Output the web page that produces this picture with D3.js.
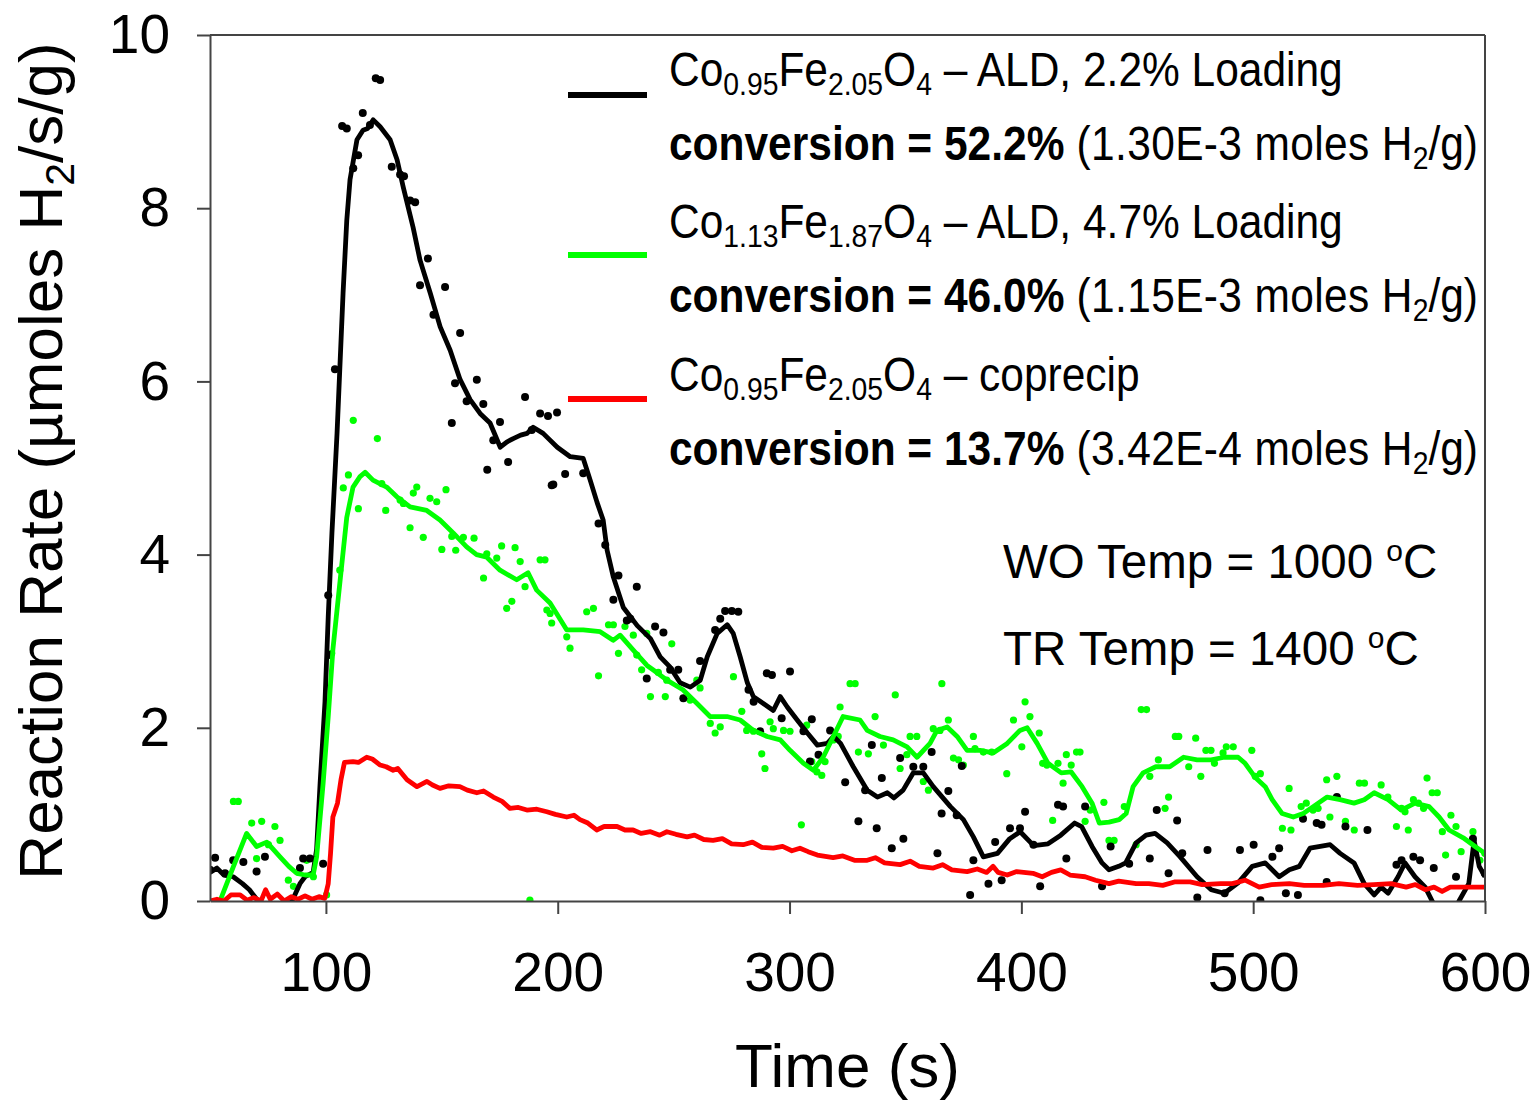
<!DOCTYPE html>
<html>
<head>
<meta charset="utf-8">
<script src="https://cdn.jsdelivr.net/npm/d3@7"></script>
<style>
  html, body { margin: 0; padding: 0; background: #fff; }
  svg { display: block; }
  text { font-family: "Liberation Sans", Arial, Helvetica, sans-serif; fill: #000; }
</style>
</head>
<body>
<svg id="chart" width="1534" height="1100"></svg>
<script>
// ---------------- DATA ----------------
const xTicks = [100, 200, 300, 400, 500, 600];
const yTicks = [0, 2, 4, 6, 8, 10];

// Co0.95Fe2.05O4 – ALD, 2.2% (black) : smoothed line [time, rate]
const blackLine = [[50,0.33],[53,0.38],[56,0.3],[60,0.28],[64,0.2],[67,0.13],[70.7,0],[75,-0.15],[80,-0.15],[85.4,0],[88.8,0.2],[91,0.28],[94.5,0.33],[96,0.6],[97.5,1.36],[99.6,2.3],[101,3.28],[102.6,4.25],[104.8,5.4],[107.4,7.02],[109,7.86],[110.4,8.33],[113.4,8.79],[116,8.9],[118,8.92],[120.4,9.02],[123.4,8.94],[127.7,8.79],[130.7,8.56],[133.4,8.24],[137.6,7.78],[140.6,7.4],[145,7.02],[149.3,6.63],[153.6,6.36],[157.9,6.02],[162.2,5.79],[166.5,5.63],[170.8,5.52],[175.2,5.24],[178,5.3],[180.8,5.34],[184,5.38],[186.8,5.4],[189.4,5.47],[193.7,5.4],[199.8,5.24],[205.4,5.13],[211,5.11],[214,4.86],[217,4.6],[219.6,4.4],[221.3,4.05],[224,3.74],[228.3,3.39],[234.3,3.18],[240,3.03],[244.2,2.82],[248.5,2.7],[252.8,2.52],[257.2,2.47],[261.5,2.55],[264.5,2.82],[268.8,3.09],[273.1,3.19],[275.7,3.09],[278.7,2.82],[281.8,2.52],[284.4,2.36],[288.7,2.28],[293,2.2],[296,2.36],[299,2.24],[303.3,2.09],[307.7,1.94],[312,1.8],[316.3,1.82],[319,1.9],[322,1.82],[327.5,1.55],[333.5,1.28],[337.9,1.2],[342.2,1.25],[345,1.19],[349,1.28],[353.4,1.48],[357.7,1.48],[362,1.32],[369.4,1.09],[375,0.94],[379.3,0.74],[383.6,0.51],[389.7,0.55],[395,0.72],[399.5,0.8],[405.3,0.64],[411.5,0.66],[417,0.76],[423,0.9],[426,0.86],[430.5,0.63],[434.8,0.44],[437.8,0.36],[442,0.4],[445,0.44],[449.5,0.67],[453.8,0.76],[457.7,0.78],[462.9,0.67],[468.5,0.51],[475.8,0.28],[481.9,0.13],[487.5,0.09],[493.5,0.21],[499.6,0.4],[505.2,0.44],[511.2,0.28],[515.6,0.36],[519.9,0.4],[524.5,0.61],[528.9,0.63],[533.2,0.65],[537.5,0.55],[543.5,0.44],[547.9,0.2],[552.2,0.07],[555.2,0.16],[558.2,0.09],[562.5,0.28],[565.5,0.44],[569.8,0.28],[574.2,0.16],[577.2,0],[580,-0.15],[586,-0.15],[588.8,0],[593,0.2],[595.3,0.7],[597.5,0.4],[600,0.28]];

// black raw points
const blackDots = [[50,0.36],[52.2,0.5],[56.5,0.32],[60,0.47],[64.4,0.45],[70.1,0.34],[73.7,0.51],[88.8,0.38],[90.2,0.49],[93.1,0.49],[98.8,0.43],[101,3.53],[101.8,2.84],[103.9,6.14],[109,8.92],[107,8.95],[111.8,8.46],[113.9,8.61],[115.9,9.1],[119,8.96],[121.5,9.5],[123.4,9.48],[128.4,8.48],[132,8.39],[133.7,8.37],[136.3,8.09],[138.5,8.07],[140.6,7.11],[144,7.42],[146.4,6.77],[151.4,7.09],[154.3,5.52],[155.7,5.98],[157.9,6.56],[160.7,5.77],[165.1,6.02],[167.9,5.74],[169.6,4.98],[172.2,5.32],[175.1,5.53],[178.6,5.07],[185.9,5.82],[188.8,5.44],[192.4,5.63],[195.8,5.6],[197.4,4.8],[198.1,4.81],[199.7,5.64],[203.2,4.93],[211,4.94],[217.6,4.36],[220.5,4.11],[224,3.48],[226.2,3.76],[229.8,3.24],[231.3,3.26],[234.1,3.63],[238.4,2.57],[242,3.17],[245.6,3.1],[248.5,2.67],[252,2.67],[254.2,2.34],[261.4,2.77],[267.9,3.13],[270.1,3.26],[272.2,3.35],[275.1,3.35],[277.9,3.34],[282.3,2.44],[284.5,2.3],[287.3,1.96],[290.2,2.63],[292.4,2.61],[296.6,2.11],[300.2,2.65],[306,1.96],[308.8,1.61],[309.6,2.1],[312.5,1.69],[317.5,1.97],[324,1.37],[329.7,0.92],[332.6,1.28],[335.5,1.8],[337.6,0.84],[339.8,1.42],[344.1,0.61],[347.7,1.65],[349.1,0.72],[353.4,1.55],[357.7,1.55],[361.3,1.72],[363.8,0.55],[365.6,1.01],[368.5,1.27],[372.1,0.99],[374.3,1.56],[377.9,0.07],[379.3,0.47],[385.8,0.2],[388.7,0.68],[391.5,0.24],[395.1,0.84],[399.4,0.84],[401.6,1.03],[405.2,0.65],[408.1,0.17],[415.8,1.11],[418,1.09],[419.4,0.49],[427.5,1.09],[434.8,0.17],[438.5,0.63],[446.5,0.43],[455.4,0.49],[458.4,1.05],[463.5,0.32],[467.2,0.93],[469.4,0.55],[475.9,0.04],[480.3,0.59],[487.7,0.09],[494.3,0.59],[500.2,0.65],[503.1,0.01],[508.3,0.51],[511.2,0.61],[514.1,0.09],[519.3,0.07],[521.5,0.95],[527.4,0.9],[529.5,0.88],[531.7,0.22],[536.1,1.2],[539.8,0.86],[549.3,0.82],[561.8,0.42],[564,0.47],[569.1,0.51],[572,0.47],[577.9,0.38],[587.5,0.28],[594.8,0.72],[599.9,0.32]];

// Co1.13Fe1.87O4 – ALD, 4.7% (green)
const greenLine = [[54.3,0],[60,0.39],[65.8,0.78],[70.1,0.63],[74.5,0.68],[80.2,0.51],[84,0.4],[87.4,0.32],[91,0.3],[94.5,0.3],[96,0.51],[98.8,1.36],[101,2.13],[103,2.9],[106,3.67],[109,4.43],[111.7,4.78],[114.7,4.9],[116.9,4.95],[120.3,4.86],[126.2,4.78],[130.5,4.67],[136.3,4.55],[143.5,4.51],[149.2,4.4],[154.9,4.25],[160.7,4.09],[165,4.0],[169.4,3.97],[175.1,3.82],[182.3,3.71],[187.2,3.79],[190.9,3.59],[196.7,3.44],[203.9,3.13],[211,3.13],[218.3,3.11],[223.9,3.01],[226.9,3.07],[232.5,2.9],[238.5,2.72],[241.1,2.67],[247.1,2.55],[254,2.44],[260.1,2.28],[265.7,2.13],[273,2.13],[278.7,2.09],[284.4,1.97],[290.3,1.9],[296,1.86],[300.2,1.74],[306,1.59],[310.3,1.51],[314.5,1.66],[318.9,1.9],[323.1,2.13],[330.4,2.09],[333.5,1.97],[339,1.9],[344.7,1.86],[350.7,1.78],[355,1.66],[360.6,1.82],[363.6,1.97],[368,2.01],[372.3,1.9],[376.6,1.74],[382.2,1.74],[387.8,1.71],[393.9,1.82],[399.4,1.97],[402.5,2.0],[406.8,1.82],[411.5,1.59],[417.2,1.48],[421.5,1.49],[426.2,1.32],[430.5,1.13],[433.6,0.9],[437.8,0.91],[442.2,0.94],[445.2,1.01],[448.2,1.32],[452.5,1.48],[458,1.55],[464,1.55],[470,1.66],[475.8,1.63],[481.9,1.63],[487.5,1.66],[493.5,1.66],[496.5,1.59],[500.8,1.43],[505.2,1.32],[508.2,1.17],[512.5,1.01],[517.3,0.97],[521.6,1.01],[525.9,1.09],[531.9,1.2],[537.5,1.17],[543.5,1.13],[547.9,1.17],[552.2,1.25],[558.2,1.17],[563.9,1.05],[569.8,1.13],[575.9,1.09],[580.2,0.97],[584.5,0.82],[590.6,0.73],[596.2,0.62],[600,0.55]];

const greenDots = [[60.1,1.15],[62.2,1.15],[68,0.9],[72.3,0.92],[78,0.86],[80.2,0.7],[75.2,0.65],[70.1,0.49],[83.8,0.24],[86,0.17],[91.7,0.47],[94.6,0.28],[100.3,0.07],[102.5,2.86],[106,3.82],[107.5,4.77],[109.7,4.92],[111.8,5.55],[114,4.53],[122.2,5.34],[124.1,4.82],[125.8,4.51],[132,4.63],[133.4,4.59],[136.3,4.31],[137.7,4.71],[139.2,4.78],[142,4.2],[144.9,4.65],[147.8,4.61],[150,4.06],[151.8,4.75],[154.3,4.21],[156,4.05],[159.3,4.2],[163.9,4.19],[168,3.73],[169.4,4.01],[173.7,3.96],[175.8,4.1],[178,3.38],[180.2,3.46],[181.6,4.08],[183.8,3.92],[185.9,3.63],[188,0.01],[192.4,3.94],[194.5,3.94],[195.3,3.36],[196.7,3.32],[197.4,3.21],[203.9,3.05],[205.3,2.92],[212.5,3.34],[215.4,3.38],[217.6,2.6],[221.9,3.19],[224,3.19],[226.2,2.86],[229,3.17],[232.6,3.07],[234.1,2.84],[236.2,2.67],[238.4,3.09],[240,2.36],[243.4,2.64],[246.4,2.36],[247,2.55],[249.2,2.97],[254.2,2.34],[257.1,2.32],[260,2.55],[261.4,2.46],[265.8,2.05],[267.9,1.94],[270.1,2.01],[275.8,2.59],[279.4,2.19],[281.5,1.97],[284.4,1.96],[288,1.7],[289.4,1.53],[291.6,2.07],[293,1.99],[297.4,1.97],[300.2,1.96],[305.1,0.88],[307.4,2.03],[309.6,1.61],[311.8,1.49],[313.9,1.45],[315.3,1.61],[318.9,1.86],[321,1.9],[321.8,2.24],[326.1,2.51],[328.3,2.51],[329.7,1.72],[334,1.7],[336.9,2.13],[340.5,1.8],[345.6,2.38],[347.7,1.53],[350.6,1.69],[352,1.9],[354.9,1.9],[357.7,1.38],[359.9,1.28],[362,1.99],[364.9,1.97],[365.7,2.51],[368.5,2.09],[370.7,1.65],[372.9,1.63],[375,1.57],[379.3,1.9],[380,1.76],[383.6,1.72],[387.2,1.72],[393.7,1.47],[396.6,2.09],[400.2,1.78],[401.6,2.3],[403.7,2.13],[407.7,1.94],[409.2,1.59],[411,1.57],[413.5,0.93],[415.8,1.59],[418,1.36],[419.4,1.69],[421.5,1.57],[423.8,1.72],[425.3,1.72],[427.5,0.92],[429.7,1.05],[435.6,1.14],[437.8,0.7],[440,0.7],[444.4,1.09],[449.5,0.65],[451.7,2.21],[454,2.21],[455.4,1.44],[459.1,1.63],[462,1.07],[463.5,1.2],[466.4,1.9],[467.9,1.9],[472.2,1.55],[475.2,1.88],[477.4,1.44],[479.6,1.74],[481.8,1.74],[483.3,1.59],[487,1.71],[488.4,1.78],[491.4,1.78],[499.4,1.74],[500.9,1.44],[503.1,1.47],[512.6,0.84],[515.5,1.3],[516.3,0.82],[520.7,1.09],[522.9,1.13],[525.8,1.05],[528,1.07],[531.7,1.4],[533.1,0.97],[536.1,1.44],[539.8,0.92],[543.6,0.82],[545.8,1.36],[548,1.36],[555.2,1.34],[558.1,1.2],[561.8,0.86],[564,1.07],[565.5,1.03],[566.9,0.82],[569.1,1.17],[571.3,1.13],[573.5,1.07],[575,1.42],[577.2,1.25],[579.4,1.25],[581.6,0.8],[583,0.53],[585.3,0.99],[587.5,0.86],[589.7,0.57],[594.8,0.8],[597.8,0.47],[599.9,0.55]];

// Co0.95Fe2.05O4 – coprecip (red)
const redLine = [[50,0],[53,0.02],[56,0],[59,0.07],[63,0.07],[66,0.01],[69,0.04],[72,0],[74,0.13],[76,0.02],[79,0.08],[82,0],[85,0.05],[88,0.02],[91,0.06],[94,0.02],[97,0.05],[99.5,0.03],[101,0.2],[102,0.55],[103,0.97],[105,1.13],[106.5,1.4],[108,1.6],[111.7,1.61],[114,1.6],[117.6,1.66],[120,1.64],[123.4,1.57],[126,1.55],[129,1.51],[131,1.53],[135,1.4],[139.3,1.32],[143.6,1.38],[146,1.34],[149.2,1.3],[153,1.33],[157.8,1.32],[161,1.28],[165.1,1.25],[168,1.27],[172.2,1.2],[176,1.15],[179.4,1.07],[183,1.08],[186.7,1.05],[191,1.06],[195.3,1.03],[199,1.0],[203.9,0.97],[207,0.99],[209.6,0.94],[213,0.9],[216.8,0.82],[220,0.86],[225.6,0.86],[229,0.82],[232.5,0.82],[236,0.78],[240,0.8],[244,0.76],[247.1,0.8],[251,0.77],[255.8,0.74],[259,0.76],[263,0.71],[267,0.7],[271,0.72],[275,0.66],[280,0.65],[284,0.68],[288,0.62],[293,0.61],[297,0.63],[301,0.58],[304.5,0.61],[308,0.57],[312,0.53],[318.8,0.5],[323,0.52],[328,0.47],[333.5,0.47],[337,0.5],[341,0.44],[347.7,0.42],[352,0.46],[356,0.4],[362,0.38],[366,0.42],[370,0.36],[376.6,0.34],[381,0.37],[385,0.33],[387.8,0.4],[390,0.33],[393.9,0.3],[398,0.34],[405,0.32],[409,0.28],[413,0.33],[417,0.36],[421,0.3],[427.5,0.28],[432,0.24],[437.8,0.2],[442,0.23],[449.5,0.2],[455,0.2],[461,0.18],[466,0.22],[472.8,0.22],[478,0.19],[486,0.2],[491,0.2],[496.5,0.24],[502.6,0.16],[508,0.19],[515.6,0.2],[522,0.18],[530.2,0.18],[537,0.2],[545,0.18],[552,0.19],[559.5,0.2],[566,0.16],[570,0.19],[574.2,0.13],[578,0.16],[581.5,0.11],[585,0.16],[588.8,0.16],[594,0.16],[600,0.16]];

const seriesColors = ["#000000", "#00ff00", "#ff0000"];
const legendFormulas = [
  [["Co",0],["0.95",1],["Fe",0],["2.05",1],["O",0],["4",1],[" – ALD, 2.2% Loading",0]],
  [["Co",0],["1.13",1],["Fe",0],["1.87",1],["O",0],["4",1],[" – ALD, 4.7% Loading",0]],
  [["Co",0],["0.95",1],["Fe",0],["2.05",1],["O",0],["4",1],[" – coprecip",0]]
];
const legendConversion = ["52.2%", "46.0%", "13.7%"];
const legendMoles = ["1.30E-3", "1.15E-3", "3.42E-4"];
const tempLabels = [["WO Temp = 1000 ", "o", "C"], ["TR Temp = 1400 ", "o", "C"]];

// ---------------- CHART ----------------
const svg = d3.select("#chart");
const L = 210, R = 1485, T = 35, B = 901;
const x = d3.scaleLinear().domain([50, 600]).range([L, R]);
const y = d3.scaleLinear().domain([0, 10]).range([B, T]);
const axisColor = "#444";

svg.append("defs").append("clipPath").attr("id", "plotclip")
  .append("rect").attr("x", L).attr("y", T).attr("width", R - L).attr("height", B - T);

const plot = svg.append("g").attr("clip-path", "url(#plotclip)");

// dots
plot.append("g").selectAll("circle").data(greenDots).join("circle")
  .attr("cx", d => x(d[0])).attr("cy", d => y(d[1])).attr("r", 3.6).attr("fill", seriesColors[1]);
plot.append("g").selectAll("circle").data(blackDots).join("circle")
  .attr("cx", d => x(d[0])).attr("cy", d => y(d[1])).attr("r", 4).attr("fill", seriesColors[0]);

const line = d3.line().x(d => x(d[0])).y(d => y(d[1]));
[[blackLine, 0], [greenLine, 1], [redLine, 2]].forEach(([data, i]) => {
  plot.append("path").datum(data).attr("d", line)
    .attr("fill", "none").attr("stroke", seriesColors[i])
    .attr("stroke-width", 4.8).attr("stroke-linejoin", "round");
});

// frame (top, right)
svg.append("line").attr("x1", L).attr("x2", R).attr("y1", T).attr("y2", T)
  .attr("stroke", axisColor).attr("stroke-width", 2);
svg.append("line").attr("x1", R).attr("x2", R).attr("y1", T).attr("y2", B)
  .attr("stroke", axisColor).attr("stroke-width", 2);

// axes
const xAxis = svg.append("g").attr("transform", `translate(0,${B})`)
  .call(d3.axisBottom(x).tickValues(xTicks).tickSize(13).tickSizeOuter(0).tickPadding(38).tickFormat(d3.format("d")));
const yAxis = svg.append("g").attr("transform", `translate(${L},0)`)
  .call(d3.axisLeft(y).tickValues(yTicks).tickSize(13).tickSizeOuter(0).tickPadding(27).tickFormat(d3.format("d")));
[xAxis, yAxis].forEach(a => {
  a.select(".domain").attr("stroke", axisColor).attr("stroke-width", 2);
  a.selectAll(".tick line").attr("stroke", axisColor).attr("stroke-width", 2);
  a.selectAll(".tick text").attr("fill", "#000")
    .style("font-family", '"Liberation Sans", Arial, sans-serif').style("font-size", "55px");
});

// axis titles
svg.append("text").attr("x", (L + R) / 2).attr("y", 1087).attr("text-anchor", "middle")
  .style("font-size", "62px").text("Time (s)");
const yt = svg.append("text").attr("transform", `translate(62,${(40 + 882) / 2}) rotate(-90)`)
  .attr("text-anchor", "middle").style("font-size", "62px");
yt.append("tspan").text("Reaction Rate (µmoles H");
yt.append("tspan").attr("dy", 12).style("font-size", "41px").text("2");
yt.append("tspan").attr("dy", -12).text("/s/g)");

// legend
const legendLineY = [95, 255, 399];
const legendBase = [86, 238, 391];
const LEG_FS = 48, SUB_FS = 32, SUB_DY = 9;
const legend = svg.append("g");
legendFormulas.forEach((parts, i) => {
  legend.append("line").attr("x1", 568).attr("x2", 647)
    .attr("y1", legendLineY[i]).attr("y2", legendLineY[i])
    .attr("stroke", seriesColors[i]).attr("stroke-width", 6);

  const g1 = legend.append("g").attr("transform", `translate(669,${legendBase[i]}) scale(0.885,1)`);
  const t1 = g1.append("text").attr("x", 0).attr("y", 0).style("font-size", LEG_FS + "px");
  let inSub = false;
  parts.forEach(([s, sub]) => {
    const ts = t1.append("tspan").text(s);
    if (sub && !inSub) { ts.attr("dy", SUB_DY); inSub = true; }
    else if (!sub && inSub) { ts.attr("dy", -SUB_DY); inSub = false; }
    if (sub) ts.style("font-size", SUB_FS + "px");
  });

  const g2 = legend.append("g").attr("transform", `translate(669,${legendBase[i] + 74}) scale(0.885,1)`);
  const t2 = g2.append("text").attr("x", 0).attr("y", 0).style("font-size", LEG_FS + "px");
  t2.append("tspan").style("font-weight", "bold").text("conversion = " + legendConversion[i]);
  t2.append("tspan").style("letter-spacing", "0.4px").text(" (" + legendMoles[i] + " moles H");
  t2.append("tspan").attr("dy", SUB_DY).style("font-size", SUB_FS + "px").text("2");
  t2.append("tspan").attr("dy", -SUB_DY).text("/g)");
});

// temperature notes
const tempBase = [578, 665];
tempLabels.forEach((p, i) => {
  const t = svg.append("text").attr("x", 1003).attr("y", tempBase[i]).style("font-size", "47.5px");
  t.append("tspan").text(p[0]);
  t.append("tspan").attr("dy", -17).style("font-size", "30px").text(p[1]);
  t.append("tspan").attr("dy", 17).text(p[2]);
});
</script>
</body>
</html>
